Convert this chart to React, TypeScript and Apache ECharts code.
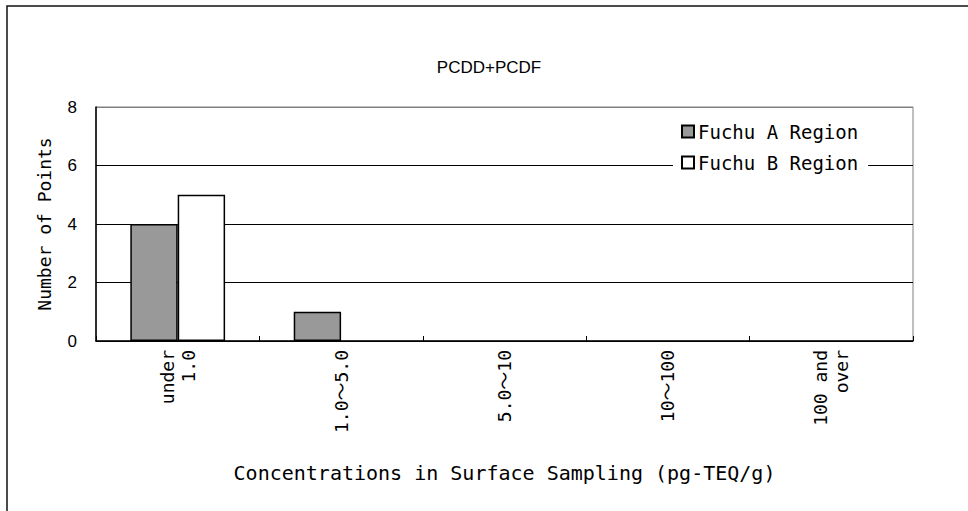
import React, { useEffect, useRef } from "react";
import * as echarts from "echarts";

const categories = ["under\n1.0", "1.0～5.0", "5.0～10", "10～100", "100 and\nover"];
const seriesNames = ["Fuchu A Region", "Fuchu B Region"];
const fuchuA = [4, 1, 0, 0, 0];
const fuchuB = [5, 0, 0, 0, 0];
const yTicks = { min: 0, max: 8, interval: 2 };
const titleText = "PCDD+PCDF";
const xName = "Concentrations in Surface Sampling (pg-TEQ/g)";
const yName = "Number of Points";

const MONO = "'DejaVu Sans Mono', 'Noto Sans CJK JP', monospace";
const SANS = "'Liberation Sans', Arial, sans-serif";

// zero counts draw no bar at all in the reference
const asBars = (arr: number[]) => arr.map((v) => (v === 0 ? null : v));

export default function App() {
  const ref = useRef<HTMLDivElement>(null);
  useEffect(() => {
    document.body.style.margin = "0";
    const chart = echarts.init(ref.current!, null, { renderer: "svg" });
    chart.setOption({
      animation: false,
      backgroundColor: "#ffffff",
      title: {
        text: titleText,
        left: 484,
        top: 54,
        textAlign: "center",
        textStyle: { fontFamily: SANS, fontSize: 17, fontWeight: "normal", color: "#000" },
      },
      graphic: [
        {
          type: "rect",
          shape: { x: 7, y: 6, width: 1000, height: 600 },
          style: { fill: "none", stroke: "#111", lineWidth: 1.5 },
          silent: true,
        },
      ],
      legend: {
        orient: "vertical",
        left: 673,
        top: 116,
        backgroundColor: "#ffffff",
        padding: [6, 10, 6, 8],
        itemWidth: 12,
        itemHeight: 12,
        itemGap: 12,
        icon: "rect",
        textStyle: { fontFamily: MONO, fontSize: 19, color: "#000", padding: [0, 0, 0, -1] },
        data: seriesNames,
      },
      grid: {
        left: 96,
        right: 55,
        top: 107,
        bottom: 170,
        show: true,
        borderColor: "#808080",
        borderWidth: 1,
        backgroundColor: "transparent",
      },
      xAxis: {
        type: "category",
        data: categories,
        name: xName,
        nameLocation: "middle",
        nameGap: 122,
        nameTextStyle: { fontFamily: MONO, fontSize: 20, color: "#000" },
        axisLine: { lineStyle: { color: "#000", width: 1.5 } },
        axisTick: { show: true, inside: true, length: 5, lineStyle: { color: "#000" } },
        axisLabel: {
          interval: 0,
          rotate: 90,
          margin: 9,
          fontFamily: MONO,
          fontSize: 18,
          lineHeight: 21,
          color: "#000",
        },
      },
      yAxis: {
        type: "value",
        min: yTicks.min,
        max: yTicks.max,
        interval: yTicks.interval,
        name: yName,
        nameLocation: "middle",
        nameGap: 43,
        nameTextStyle: { fontFamily: MONO, fontSize: 18, color: "#000" },
        axisLine: { show: true, lineStyle: { color: "#000", width: 1.5 } },
        axisTick: { show: false },
        axisLabel: { fontFamily: SANS, fontSize: 17, color: "#000", margin: 19 },
        splitLine: {
          show: true,
          lineStyle: { color: ["#000", "#000", "#000", "#000", "#808080"], width: 1 },
        },
      },
      series: [
        {
          name: seriesNames[0],
          type: "bar",
          data: asBars(fuchuA),
          barWidth: "29%",
          barGap: "0%",
          itemStyle: { color: "#999999", borderColor: "#000", borderWidth: 1.5 },
        },
        {
          name: seriesNames[1],
          type: "bar",
          data: asBars(fuchuB),
          barWidth: "29%",
          barGap: "0%",
          itemStyle: { color: "#ffffff", borderColor: "#000", borderWidth: 1.5 },
        },
      ],
    });
    return () => chart.dispose();
  }, []);
  return <div ref={ref} style={{ width: 968, height: 511 }} />;
}
